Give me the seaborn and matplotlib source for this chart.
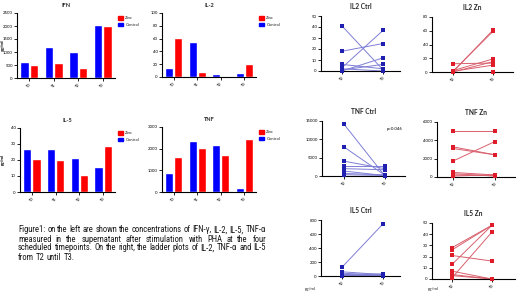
import matplotlib
matplotlib.use("Agg")
import matplotlib.pyplot as plt
import seaborn as sns
import pandas as pd
from matplotlib.patches import Patch
from matplotlib import font_manager

# ---------------- data ----------------
times = ["T0", "T1", "T2", "T3"]
ifn_control = [630, 1185, 992, 2049]
ifn_zinc = [490, 567, 374, 1985]
il2_control = [14.5, 55.4, 5.2, 6.7]
il2_zinc = [61.7, 7.8, 0, 19.7]
il5_control = [26.7, 26.9, 21.3, 15.5]
il5_zinc = [20.9, 19.9, 10.6, 29.0]
tnf_control = [890, 2370, 2170, 185]
tnf_zinc = [1600, 2050, 1720, 2450]

ladder_times = ["T2", "T3"]
il2_ctrl_t2 = [41, 18, 3, 6, 1, 0, 2]
il2_ctrl_t3 = [1, 25, 37, 2, 6, 12, 0]
il2_zn_t2 = [0, 1, 12, 2, 0, 1, 0]
il2_zn_t3 = [61, 59, 13, 19, 15, 10, 0]
tnf_ctrl_t2 = [14100, 7900, 4040, 2600, 2000, 1350, 700, 360]
tnf_ctrl_t3 = [0, 200, 2000, 2600, 1700, 100, 300, 150]
tnf_zn_t2 = [5020, 3290, 3110, 1735, 500, 360, 220, 100]
tnf_zn_t3 = [5020, 2420, 2420, 3870, 220, 100, 150, 250]
il5_ctrl_t2 = [125, 60, 40, 20, 10, 5]
il5_ctrl_t3 = [746, 20, 10, 30, 5, 15]
il5_zn_t2 = [28, 26, 21, 13, 7, 4, 3, 1]
il5_zn_t3 = [48, 48, 16, 48, 0, 0, 0, 42]

caption_lines = [
    "Figure1: on the left are shown the concentrations of IFN-\u03b3, IL-2, IL-5, TNF-\u03b1",
    "measured in the supernatant after stimulation with PHA at the four",
    "scheduled timepoints. On the right, the ladder plots of IL-2, TNF-\u03b1 and IL-5",
    "from T2 until T3.",
]

# ---------------- style ----------------
sns.set_theme(style="ticks")
plt.rcParams["font.family"] = ["Lato", "DejaVu Sans"]
available = {f.name for f in font_manager.fontManager.ttflist}
cap_font = "Lato"
for cand in ["Liberation Sans Narrow", "Roboto Condensed", "Open Sans Condensed"]:
    if cand in available:
        cap_font = cand
        break

W, H = 520, 295
fig = plt.figure(figsize=(W / 100, H / 100), dpi=100)
fig.patch.set_facecolor("white")

BLUE = "#0000FF"
RED = "#FF0000"
TICK_FS = 3.1


def add_ax(l, t, r, b):
    return fig.add_axes([l / W, 1 - b / H, (r - l) / W, (b - t) / H])


def style_axis(ax, yticks):
    sns.despine(ax=ax)
    for s in ("left", "bottom"):
        ax.spines[s].set_linewidth(0.8)
        ax.spines[s].set_color("black")
    ax.set_yticks(yticks)
    ax.set_ylim(yticks[0], yticks[-1])
    ax.tick_params(axis="both", length=2, width=0.6, pad=1, labelsize=TICK_FS, colors="black")
    ax.set_facecolor("white")
    for lab in ax.get_xticklabels():
        lab.set_rotation(45)
        lab.set_ha("right")
        lab.set_rotation_mode("anchor")


def bar_chart(box, title, ctrl, zinc, yticks):
    ax = add_ax(*box)
    df = pd.DataFrame({
        "time": times * 2,
        "value": list(ctrl) + list(zinc),
        "group": ["Control"] * 4 + ["Zinc"] * 4,
    })
    sns.barplot(data=df, x="time", y="value", hue="group",
                hue_order=["Control", "Zinc"],
                palette={"Control": BLUE, "Zinc": RED},
                width=0.78, gap=0.12, saturation=1, legend=False, ax=ax)
    ax.set_xlim(-0.5, 3.5)
    ax.set_xlabel("")
    ax.set_ylabel("pg/ml", fontsize=TICK_FS)
    l = box[0]
    ax.yaxis.set_label_coords((5 - l) / (box[2] - box[0]), 0.5)
    ax.set_title(title, fontsize=4, fontweight="bold", pad=4)
    style_axis(ax, yticks)
    handles = [Patch(color=RED, label="Zinc"), Patch(color=BLUE, label="Control")]
    ax.legend(handles=handles, loc="upper left", bbox_to_anchor=(1.0, 1.0),
              frameon=False, fontsize=TICK_FS, handlelength=1.2, handleheight=1.0,
              handletextpad=0.5, labelspacing=0.5, borderaxespad=0.3)
    return ax


bar_chart((17, 13, 115, 78), "IFN", ifn_control, ifn_zinc, [0, 500, 1000, 1500, 2000, 2500])
bar_chart((162, 13, 256, 77), "IL-2", il2_control, il2_zinc, [0, 20, 40, 60, 80, 100])
bar_chart((20, 128, 115, 192), "IL-5", il5_control, il5_zinc, [0, 10, 20, 30, 40])
bar_chart((162, 127, 256, 192), "TNF", tnf_control, tnf_zinc, [0, 1000, 2000, 3000])


def ladder(box, xlim, title, t2, t3, yticks, line_col, mark_col):
    ax = add_ax(*box)
    n = len(t2)
    df = pd.DataFrame({
        "subj": list(range(n)) * 2,
        "pos": [0] * n + [1] * n,
        "value": list(t2) + list(t3),
    })
    sns.lineplot(data=df, x="pos", y="value", units="subj", estimator=None,
                 color=line_col, linewidth=0.7, ax=ax)
    sns.scatterplot(data=df, x="pos", y="value", color=mark_col, marker="s",
                    s=5, linewidth=0, ax=ax, clip_on=False, zorder=3)
    ax.set_xlim(*xlim)
    ax.set_xticks([0, 1])
    ax.set_xticklabels(ladder_times)
    ax.set_xlabel("")
    ax.set_ylabel("")
    ax.set_title(title, fontsize=4.8, fontweight="bold", pad=5)
    style_axis(ax, yticks)
    return ax


LBLUE, DBLUE = "#7e7ed6", "#1f1fb0"
LRED, DRED = "#d9606e", "#e01c2a"
ladder((321, 16, 400, 71), (-0.51, 1.41), "IL2 Ctrl", il2_ctrl_t2, il2_ctrl_t3,
       [0, 10, 20, 30, 40, 50], LBLUE, DBLUE)
ladder((432, 17, 513, 72), (-0.52, 1.5), "IL2 Zn", il2_zn_t2, il2_zn_t3,
       [0, 20, 40, 60, 80], LRED, DRED)
ax_tc = ladder((322, 121, 405, 176), (-0.54, 1.49), "TNF Ctrl", tnf_ctrl_t2, tnf_ctrl_t3,
               [0, 5000, 10000, 15000], LBLUE, DBLUE)
ax_tc.text(0.78, 0.86, "p=0.046", transform=ax_tc.transAxes, fontsize=TICK_FS,
           ha="left", va="center", color="black")
ladder((437, 122, 515, 177), (-0.38, 1.48), "TNF Zn", tnf_zn_t2, tnf_zn_t3,
       [0, 2000, 4000, 6000], LRED, DRED)
ladder((321, 220, 400, 276), (-0.51, 1.41), "IL5 Ctrl", il5_ctrl_t2, il5_ctrl_t3,
       [0, 200, 400, 600, 800], LBLUE, DBLUE)
ladder((432, 223, 515, 279), (-0.5, 1.575), "IL5 Zn", il5_zn_t2, il5_zn_t3,
       [0, 10, 20, 30, 40, 50], LRED, DRED)

fig.text(310 / W, 1 - 289 / H, "pg/ml", fontsize=TICK_FS, ha="center", va="center")
fig.text(433 / W, 1 - 289 / H, "pg/ml", fontsize=TICK_FS, ha="center", va="center")

# ---------------- justified caption ----------------
renderer = fig.canvas.get_renderer()
x0, x1 = 18, 266
ys = [230, 239, 248, 257.5]
BASE = 10.0


def word_widths(words, size):
    ws = []
    for w in words:
        t = fig.text(0, 0, w, fontsize=size, family=[cap_font, "DejaVu Sans"])
        ws.append(t.get_window_extent(renderer).width)
        t.remove()
    return ws


fs = 6.6
for line in caption_lines[:3]:
    words = line.split()
    tot = sum(word_widths(words, BASE))
    need = (x1 - x0 - 1.6 * (len(words) - 1)) / tot * BASE
    fs = min(fs, need)

for i, line in enumerate(caption_lines):
    words = line.split()
    ws = word_widths(words, fs)
    if i < 3:
        gap = (x1 - x0 - sum(ws)) / (len(words) - 1)
    else:
        gap = 2.0
    x = x0
    for w, wd in zip(words, ws):
        fig.text(x / W, 1 - ys[i] / H, w, fontsize=fs, color="#1a1a1a",
                 ha="left", va="center", family=[cap_font, "DejaVu Sans"])
        x += wd + gap

fig.savefig("out.png", dpi=100, facecolor="white")
